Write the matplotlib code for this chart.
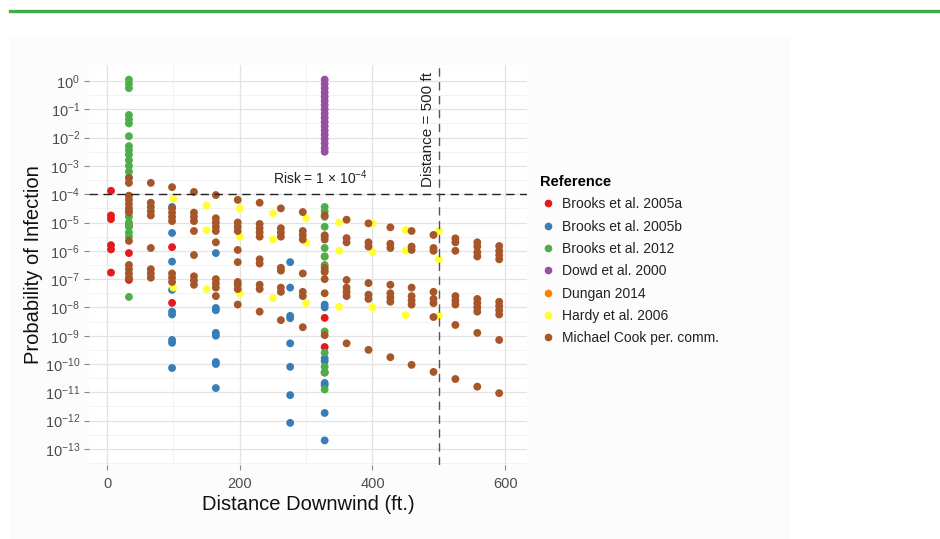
import numpy as np
import matplotlib
matplotlib.use("Agg")
import matplotlib.pyplot as plt
from matplotlib.lines import Line2D
from matplotlib.patches import Rectangle

plt.rcParams['font.family'] = ['Liberation Sans', 'DejaVu Sans']
plt.rcParams['mathtext.fontset'] = 'custom'
plt.rcParams['mathtext.rm'] = 'Liberation Sans'
plt.rcParams['mathtext.it'] = 'Liberation Sans:italic'
plt.rcParams['mathtext.bf'] = 'Liberation Sans:bold'

# distances in ft, probabilities stored as log10 values
brooks05a_x = [6, 6, 6, 6, 6, 6, 33, 33, 33, 98, 98, 328, 328, 328]
brooks05a_logp = [-3.88, -4.75, -4.88, -5.8, -5.95, -6.77, -5.09, -6.08, -7.03,
                  -5.87, -7.84, -8.37, -9.4, -10.3]

brooks05b_x = [98] * 9 + [164] * 8 + [276] * 8 + [328] * 8
brooks05b_logp = [-4.45, -5.37, -6.38, -7.38, -8.15, -8.25, -9.15, -9.25, -10.14,
                  -6.08, -8.02, -8.1, -8.9, -9.0, -9.93, -10.0, -10.85,
                  -6.4, -7.3, -8.3, -8.38, -9.27, -10.1, -11.1, -12.08,
                  -7.9, -8.0, -9.8, -9.9, -10.67, -10.75, -11.73, -12.7]

brooks12_x = [33] * 21 + [328] * 14
brooks12_logp = [0.05, -0.1, -0.25, -1.2, -1.35, -1.5, -1.95, -2.3, -2.45, -2.6, -2.8,
                 -3.0, -3.2, -3.4, -4.6, -4.8, -5.0, -5.15, -5.35, -5.5, -7.63,
                 -4.45, -4.6, -4.8, -5.15, -5.5, -5.9, -6.2, -6.5, -6.7, -8.85,
                 -9.6, -10.1, -10.3, -10.9]

dowd00_x = [328] * 18
dowd00_logp = [0.05, -0.1, -0.25, -0.4, -0.55, -0.7, -0.85, -1.0, -1.15, -1.3,
               -1.45, -1.6, -1.75, -1.9, -2.05, -2.2, -2.37, -2.5]

dungan14_x = [328]
dungan14_logp = [-6.2]

hardy06_x = [100, 100, 150, 150, 150, 200, 200, 200, 250, 250, 250, 300, 300, 300,
             350, 350, 350, 400, 400, 400, 450, 450, 450, 500, 500, 500]
hardy06_logp = [-4.15, -7.3, -4.4, -5.27, -7.35, -4.5, -5.5, -7.5, -4.67, -5.6, -7.67,
                -4.85, -5.7, -7.85, -5.0, -6.0, -7.98, -5.03, -6.04, -8.0,
                -5.27, -6.0, -8.27, -5.3, -6.3, -8.3]

cook_dist = [33, 66, 98, 131, 164, 197, 230, 262, 295, 328, 361, 394, 427, 459,
             492, 525, 558, 591]
cook_logp = [
    [-3.43, -3.6, -4.05, -4.2, -4.35, -4.5, -4.65, -5.65, -6.5, -6.65, -6.8, -6.95],
    [-3.6, -4.3, -4.45, -4.6, -4.75, -5.9, -6.65, -6.8, -6.95],
    [-3.75, -4.5, -4.65, -4.8, -4.95, -6.8, -6.95, -7.1],
    [-3.92, -4.65, -4.8, -4.95, -5.3, -6.15, -6.9, -7.05, -7.2],
    [-4.03, -4.85, -5.0, -5.15, -5.3, -5.7, -7.0, -7.15, -7.3, -7.6],
    [-4.2, -5.0, -5.15, -5.3, -5.97, -6.4, -7.1, -7.2, -7.35, -7.9],
    [-4.3, -5.05, -5.2, -5.35, -5.5, -6.3, -6.45, -7.2, -7.35, -8.15],
    [-4.5, -5.2, -5.35, -5.5, -6.6, -6.7, -7.3, -7.45, -8.45],
    [-4.63, -5.3, -5.45, -5.6, -6.8, -7.45, -7.6, -8.7],
    [-4.75, -5.45, -5.6, -6.6, -6.75, -7.0, -7.5, -8.98],
    [-4.9, -5.55, -5.7, -7.03, -7.3, -7.45, -7.6, -9.27],
    [-5.03, -5.7, -5.85, -7.14, -7.55, -7.7, -9.5],
    [-5.17, -5.75, -5.9, -7.2, -7.5, -7.65, -7.8, -9.76],
    [-5.3, -5.85, -5.97, -7.3, -7.6, -7.75, -7.9, -10.03],
    [-5.44, -5.9, -6.0, -7.45, -7.7, -7.85, -8.34, -10.28],
    [-5.56, -5.7, -6.0, -7.6, -7.75, -7.9, -8.62, -10.53],
    [-5.7, -5.85, -6.05, -6.2, -7.7, -7.85, -8.0, -8.15, -8.9, -10.8],
    [-5.83, -6.0, -6.15, -6.3, -7.8, -7.95, -8.1, -8.25, -9.15, -11.03],
]
cook_x = [d for d, col in zip(cook_dist, cook_logp) for _ in col]
cook_flat = [v for col in cook_logp for v in col]

series = [
    ('Brooks et al. 2005a', '#E41A1C', brooks05a_x, brooks05a_logp),
    ('Brooks et al. 2005b', '#377EB8', brooks05b_x, brooks05b_logp),
    ('Dungan 2014', '#FF7F00', dungan14_x, dungan14_logp),
    ('Brooks et al. 2012', '#4DAF4A', brooks12_x, brooks12_logp),
    ('Dowd et al. 2000', '#984EA3', dowd00_x, dowd00_logp),
    ('Hardy et al. 2006', '#FFFF33', hardy06_x, hardy06_logp),
    ('Michael Cook per. comm.', '#A65628', cook_x, cook_flat),
]
legend_order = ['Brooks et al. 2005a', 'Brooks et al. 2005b', 'Brooks et al. 2012',
                'Dowd et al. 2000', 'Dungan 2014', 'Hardy et al. 2006',
                'Michael Cook per. comm.']

fig = plt.figure(figsize=(9.4, 5.39), dpi=100)
fig.patch.set_facecolor('white')
fig.add_artist(Rectangle((10 / 940, 0), 780 / 940, 1 - 38 / 539,
                         transform=fig.transFigure, facecolor='#fcfcfc',
                         edgecolor='none', zorder=-10))
fig.add_artist(Line2D([10 / 940, 1], [1 - 11 / 539] * 2, transform=fig.transFigure,
                      color='#3fae49', lw=2.4))

ax = fig.add_axes([0.0948, 0.1367, 0.4659, 0.7429])
ax.set_facecolor('white')
ax.set_yscale('log')
ax.set_xlim(-27, 633)
ax.set_ylim(10 ** -13.58, 10 ** 0.57)

# grid: decades and half-decades, 200 ft and 100 ft
for e in range(0, -14, -1):
    ax.axhline(10.0 ** e, color='#e3e3e3', lw=0.9, zorder=0)
    ax.axhline(10.0 ** (e - 0.5), color='#f0f0f0', lw=0.6, zorder=0)
for xv in [0, 200, 400, 600]:
    ax.axvline(xv, color='#e3e3e3', lw=0.9, zorder=0)
for xv in [100, 300, 500]:
    ax.axvline(xv, color='#f0f0f0', lw=0.6, zorder=0)

handles = {}
for name, color, xs, lp in series:
    ax.scatter(xs, 10.0 ** np.array(lp), s=32, color=color, edgecolors='none',
               zorder=3)
    handles[name] = Line2D([], [], marker='o', ls='none', color=color, markersize=4.5)

ax.axhline(1e-4, color='#222222', lw=1.0, ls=(0, (6, 4)), zorder=4)
ax.axvline(500, color='#555555', lw=1.0, ls=(0, (6, 4)), zorder=4)
ax.text(321, 10 ** -3.75, r'Risk = 1 $\times$ 10$^{-4}$', ha='center', va='bottom',
        fontsize=10, color='#222222', zorder=5)
ax.text(495, 10 ** -1.72, 'Distance = 500 ft', rotation=90, ha='right', va='center',
        fontsize=11, color='#222222', zorder=5)

ax.set_yticks([10.0 ** e for e in range(0, -14, -1)])
ax.set_yticklabels([f'$10^{{{e}}}$' for e in range(0, -14, -1)])
ax.yaxis.set_minor_locator(matplotlib.ticker.NullLocator())
ax.set_xticks([0, 200, 400, 600])
ax.tick_params(axis='both', length=3.5, width=0.8, color='#888888',
               labelcolor='#4d4d4d', labelsize=10.5, pad=3)
ax.tick_params(axis='x', pad=5)
for sp in ax.spines.values():
    sp.set_visible(False)

ax.set_xlabel('Distance Downwind (ft.)', fontsize=14.5, color='#111111', labelpad=3)
ax.set_ylabel('Probability of Infection', fontsize=14.5, color='#111111', labelpad=1)

leg = fig.legend([handles[n] for n in legend_order], legend_order,
                 loc='upper left', bbox_to_anchor=(540 / 940, 1 - 175 / 539),
                 frameon=False, fontsize=10, title='Reference',
                 title_fontproperties={'weight': 'bold', 'size': 10.5},
                 handletextpad=0.4, labelspacing=0.6, handlelength=1.2,
                 borderaxespad=0, borderpad=0)
leg._legend_box.align = 'left'
for t in leg.get_texts():
    t.set_color('#222222')

fig.savefig('out.png', dpi=100)
